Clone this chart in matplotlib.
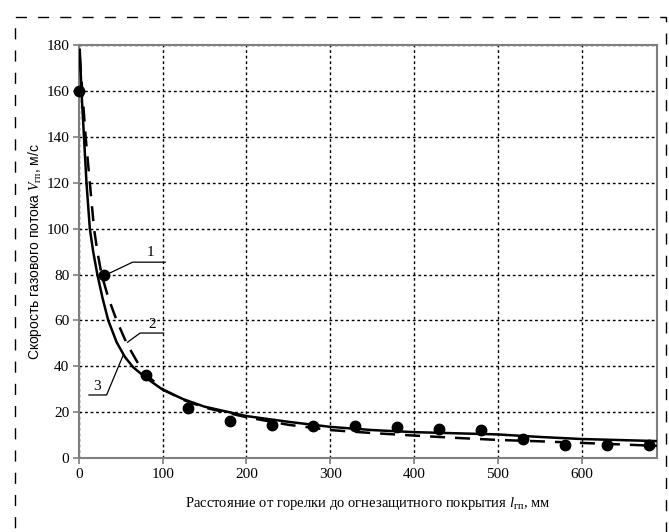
import numpy as np
import matplotlib.pyplot as plt
from matplotlib.patches import Rectangle

plt.rcParams['mathtext.fontset'] = 'custom'
plt.rcParams['mathtext.rm'] = 'Liberation Serif'
plt.rcParams['mathtext.it'] = 'Liberation Serif:italic'

# experimental points (1)
exp_x = [0, 30, 80, 130, 180, 230, 280, 330, 380, 430, 480, 530, 580, 630, 680]
exp_y = [160, 80, 36, 21.7, 16.3, 14.4, 13.9, 13.9, 13.6, 12.5, 12.2, 8.4, 5.8, 5.8, 5.8]

# curve 2 (dashed)
c2_x = [1, 4, 8, 13, 18, 22, 27, 35, 45, 57, 71, 80, 100, 125, 150, 200, 250, 300,
        350, 400, 450, 500, 550, 600, 650, 690]
c2_y = [175, 160, 140, 120, 100, 90, 80, 70, 60, 50, 41, 36.5, 30, 25.3, 22, 17.8, 14.5,
        12.2, 10.9, 9.8, 8.8, 7.9, 7.3, 6.6, 5.9, 5.3]

# curve 3 (solid)
c3_x = [1, 3, 6, 9, 13, 17, 22, 28, 35, 45, 55, 65, 80, 100, 125, 150, 200, 250, 300,
        350, 400, 450, 500, 550, 600, 650, 690]
c3_y = [178, 160, 140, 120, 100, 90, 80, 70, 60, 50.5, 44, 39.5, 35, 29.8, 25.6, 22.4, 18.3,
        15.8, 13.6, 12.2, 11.3, 10.8, 10.3, 9.2, 8.3, 7.8, 7.4]

x_ticks = [0, 100, 200, 300, 400, 500, 600]
y_ticks = [0, 20, 40, 60, 80, 100, 120, 140, 160, 180]

fig = plt.figure(figsize=(6.69, 5.32), dpi=100)
ax = fig.add_axes([0.118, 0.139, 0.864, 0.776])

ax.plot(c3_x, c3_y, color='black', lw=1.8, zorder=3)
ax.plot(c2_x, c2_y, color='black', lw=1.8, dashes=(6, 4), zorder=3)
ax.plot(exp_x, exp_y, 'o', color='black', markersize=7.5, zorder=4, clip_on=False)

# callouts
ax.text(85, 87, '1', fontsize=11, family='Liberation Serif', ha='center', va='bottom')
ax.plot([103, 64, 33], [85.4, 85.4, 80], color='black', lw=0.9)
ax.text(87, 55.5, '2', fontsize=11, family='Liberation Serif', ha='center', va='bottom')
ax.plot([101, 73, 58], [54.5, 54.5, 50.5], color='black', lw=0.9)
ax.text(21.5, 28.5, '3', fontsize=11, family='Liberation Serif', ha='center', va='bottom')
ax.plot([12, 33, 53], [27.5, 27.5, 45], color='black', lw=0.9)

ax.set_xlim(0, 690)
ax.set_ylim(0, 180)
ax.set_xticks(x_ticks)
ax.set_yticks(y_ticks)
ax.grid(True, color='black', lw=1.0, linestyle=(0, (2, 2)))
for s in ax.spines.values():
    s.set_color('#7f7f7f')
    s.set_linewidth(1.5)
ax.tick_params(direction='out', length=4, color='#7f7f7f', width=1.2,
               labelsize=11, pad=3)
for lab in ax.get_xticklabels() + ax.get_yticklabels():
    lab.set_family('Liberation Serif')

ax.set_xlabel('Расстояние от горелки до огнезащитного покрытия $\\mathit{l}_{\\mathrm{гп}}$, мм',
              family='Liberation Serif', fontsize=10.5, labelpad=10)
ax.set_ylabel('Скорость газового потока $\\mathit{V}_{\\mathrm{гп}}$, м/с',
              family='Liberation Sans', fontsize=10, labelpad=2)

# dashed frame around the figure
fig.patches.append(Rectangle((0.0224, -0.05), 0.973, 1.018, transform=fig.transFigure,
                             fill=False, edgecolor='black', lw=1.0, linestyle=(0, (8, 8))))

fig.savefig('out.png', dpi=100)
